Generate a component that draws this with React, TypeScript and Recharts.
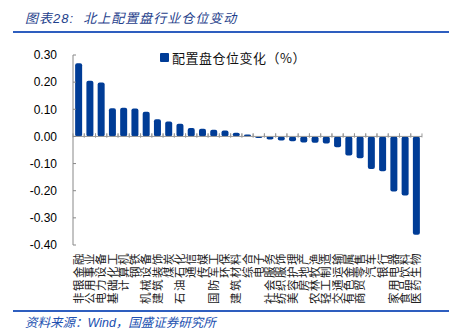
import { BarChart, Bar, XAxis, YAxis, ReferenceLine } from 'recharts'

const industries = [
  '非银金融', '公用事业', '电力设备', '基础化工', '计算机', '钢铁', '机械设备', '建筑装饰',
  '煤炭', '石油石化', '通信', '传媒', '国防军工', '环保', '建筑材料', '综合', '电子',
  '社会服务', '纺织服饰', '美容护理', '房地产', '农林牧渔', '轻工制造', '交通运输',
  '有色金属', '商贸零售', '汽车', '银行', '家用电器', '食品饮料', '医药生物',
]
const positionChange = [
  0.27, 0.205, 0.199, 0.104, 0.106, 0.103, 0.091, 0.063,
  0.055, 0.047, 0.031, 0.028, 0.025, 0.022, 0.014, 0.007, -0.006,
  -0.011, -0.015, -0.018, -0.022, -0.023, -0.026, -0.04,
  -0.07, -0.08, -0.12, -0.128, -0.203, -0.218, -0.362,
]
const yTicks = [0.3, 0.2, 0.1, 0, -0.1, -0.2, -0.3, -0.4]
const seriesName = '配置盘仓位变化（%）'

const data = industries.map((name, i) => ({ name, value: positionChange[i] }))

const BLUE = '#003C96'
const CJK = '"Noto Sans CJK SC", sans-serif'

function VerticalTick({ x, y, payload }: any) {
  return (
    <text
      x={x}
      y={y}
      transform={`rotate(-90, ${x}, ${y})`}
      textAnchor="end"
      dy="0.36em"
      fontSize={11.5}
      letterSpacing={1.5}
      fontFamily={CJK}
      fill="#222"
    >
      {payload.value}
    </text>
  )
}

// bar + little category boundary ticks on the zero line
function BarShape(props: any) {
  const { x, y, width, height, value } = props
  const top = Math.min(y, y + height)
  const bottom = Math.max(y, y + height)
  const zero = value < 0 ? top : bottom
  const gap = width * 0.3
  return (
    <g>
      <rect x={x} y={top} width={width} height={bottom - top} rx={2} ry={2} fill={BLUE} />
      <line x1={x - gap} x2={x - gap} y1={zero + 1} y2={zero - 3} stroke="#999" />
      <line x1={x + width + gap} x2={x + width + gap} y1={zero + 1} y2={zero - 3} stroke="#999" />
    </g>
  )
}

export default function App() {
  return (
    <div
      style={{
        position: 'fixed', top: 0, left: 0, width: 449, height: 335,
        background: '#fff', overflow: 'hidden',
      }}
    >
      <div
        style={{
          position: 'absolute', left: 25, top: 8, fontSize: 13, fontStyle: 'italic', letterSpacing: 1,
          color: '#1F3F8C', fontFamily: `"Liberation Sans", ${CJK}`, whiteSpace: 'pre',
        }}
      >
        图表28:  北上配置盘行业仓位变动
      </div>
      <div style={{ position: 'absolute', left: 13, top: 31, width: 436, height: 2, background: '#2E5EBF' }} />

      <BarChart
        width={449}
        height={335}
        data={data}
        margin={{ top: 55, right: 27, left: 13, bottom: 10 }}
        barCategoryGap="19%"
      >
        <YAxis
          domain={[-0.4, 0.3]}
          ticks={yTicks}
          interval={0}
          allowDataOverflow
          width={60}
          tickFormatter={v => v.toFixed(2)}
          axisLine={{ stroke: '#888' }}
          tickLine={{ stroke: '#888' }}
          tickSize={-3}
          tickMargin={19}
          tick={{ fontSize: 12, fill: '#000', fontFamily: '"Liberation Sans", Arial' }}
        />
        <XAxis
          dataKey="name"
          interval={0}
          height={80}
          tickLine={false}
          axisLine={false}
          tickSize={0}
          tickMargin={7}
          tick={<VerticalTick />}
        />
        <ReferenceLine y={0} stroke="#999" />
        <Bar dataKey="value" name={seriesName} shape={<BarShape />} isAnimationActive={false} />
      </BarChart>

      {/* legend */}
      <div
        style={{
          position: 'absolute', left: 160, top: 48, display: 'flex', alignItems: 'center',
          fontSize: 13, letterSpacing: 0.5, fontFamily: CJK, color: '#111',
        }}
      >
        <span style={{ width: 9, height: 9, background: BLUE, borderRadius: 1, marginRight: 3 }} />
        {seriesName}
      </div>

      <div style={{ position: 'absolute', left: 13, top: 310, width: 436, height: 2, background: '#2E5EBF' }} />
      <div
        style={{
          position: 'absolute', left: 25, top: 312, fontSize: 12.5, fontStyle: 'italic',
          color: '#2150B0', fontFamily: `"Liberation Sans", ${CJK}`,
        }}
      >
        资料来源：Wind，国盛证券研究所
      </div>
    </div>
  )
}
